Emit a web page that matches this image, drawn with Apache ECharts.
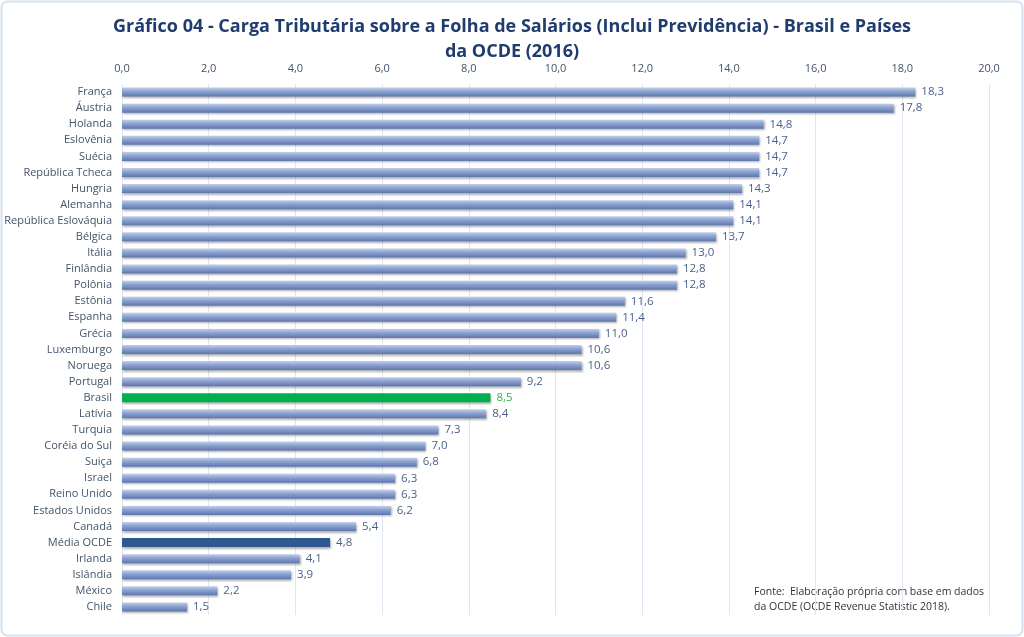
<!DOCTYPE html>
<html><head><meta charset="utf-8">
<script src="https://cdn.jsdelivr.net/npm/echarts@6/dist/echarts.min.js"></script>
<style>html,body{margin:0;padding:0;background:#fff}#c{width:1024px;height:637px}</style>
</head><body><div id="c"></div>
<script>
const categories = ["França","Áustria","Holanda","Eslovênia","Suécia","República Tcheca","Hungria","Alemanha","República Eslováquia","Bélgica","Itália","Finlândia","Polônia","Estônia","Espanha","Grécia","Luxemburgo","Noruega","Portugal","Brasil","Latívia","Turquia","Coréia do Sul","Suiça","Israel","Reino Unido","Estados Unidos","Canadá","Média OCDE","Irlanda","Islândia","México","Chile"];
const values = [18.3,17.8,14.8,14.7,14.7,14.7,14.3,14.1,14.1,13.7,13.0,12.8,12.8,11.6,11.4,11.0,10.6,10.6,9.2,8.5,8.4,7.3,7.0,6.8,6.3,6.3,6.2,5.4,4.8,4.1,3.9,2.2,1.5];
const xTicks = {min:0, max:20, interval:2};
const titleText = "Gráfico 04 - Carga Tributária sobre a Folha de Salários (Inclui Previdência) - Brasil e Países\nda OCDE (2016)";
const sourceText = "Fonte:  Elaboração própria com base em dados\nda OCDE (OCDE Revenue Statistic 2018).";

const FONT = "'Open Sans', 'Noto Sans', sans-serif";
const normalGrad = new echarts.graphic.LinearGradient(0,0,0,1,[
  {offset:0,color:'#c3cfe9'},{offset:0.45,color:'#8ba0cf'},{offset:1,color:'#5c77b0'}]);
const data = values.map((v,i)=>{
  const c = categories[i];
  if (c === 'Brasil') return {value:v, itemStyle:{color:'#00b050'}, label:{color:'#2fb24f'}};
  if (c === 'Média OCDE') return {value:v, itemStyle:{color:'#2f5891'}};
  return {value:v};
});
const chart = echarts.init(document.getElementById('c'));
chart.setOption({
  animation:false,
  backgroundColor:'#fff',
  title:{text:titleText,left:'center',top:9,
    textStyle:{fontFamily:FONT,fontSize:18,fontWeight:'bold',color:'#1f3c6e',lineHeight:25}},
  graphic:[{type:'rect',shape:{x:1.5,y:1.5,width:1021,height:634,r:6},
    style:{fill:'none',stroke:'#d6e2f0',lineWidth:2},z:-1},
    {type:'text',left:754,top:585,style:{text:sourceText,fontFamily:FONT,fontSize:10.5,fill:'#333',lineHeight:15}}],
  grid:{left:122,right:35,top:84,bottom:22,containLabel:false},
  xAxis:{type:'value',position:'top',min:xTicks.min,max:xTicks.max,interval:xTicks.interval,
    axisLine:{show:false},axisTick:{show:false},
    axisLabel:{fontFamily:FONT,fontSize:11,color:'#44546a',margin:10,
      formatter:v=>v.toFixed(1).replace('.',',')},
    splitLine:{lineStyle:{color:'#dfe7f3',width:1}}},
  yAxis:{type:'category',data:categories,inverse:true,
    axisLine:{show:false},axisTick:{show:false},
    axisLabel:{fontFamily:FONT,fontSize:11,color:'#44546a',margin:10}},
  series:[{type:'bar',data:data,barWidth:9,
    itemStyle:{color:normalGrad,shadowColor:'rgba(0,0,0,0.3)',shadowBlur:2,shadowOffsetY:1.5,shadowOffsetX:1},
    label:{show:true,position:'right',distance:6,fontFamily:FONT,fontSize:11.5,color:'#4a5f88',
      formatter:p=>p.value.toFixed(1).replace('.',',')}}]
});
</script></body></html>
